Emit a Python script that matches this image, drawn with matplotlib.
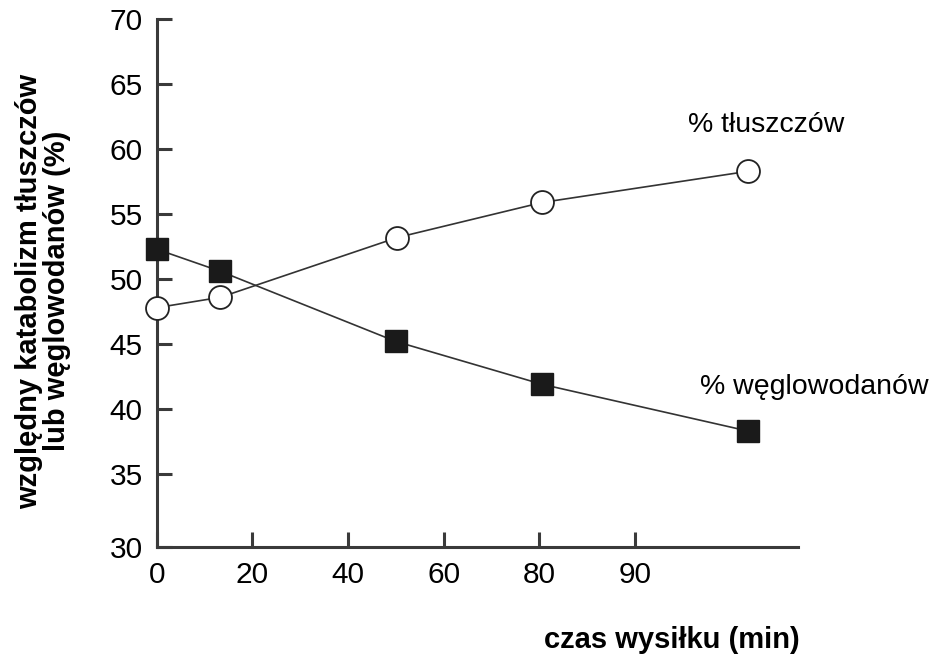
import matplotlib
matplotlib.use("Agg")
import matplotlib.pyplot as plt

# data (x in axis position units; tick labels as printed)
x_fat = [0, 13.3, 50.3, 80.6, 123.7]
fat = [47.8, 48.6, 53.2, 55.9, 58.3]
x_carb = [0, 13.3, 50.0, 80.6, 123.7]
carb = [52.3, 50.6, 45.2, 41.9, 38.3]
xtick_pos = [0, 20, 40, 60, 80, 100]
xtick_labels = ["0", "20", "40", "60", "80", "90"]
# the printed "30" sits on the x axis, a little below the even 5-unit spacing
ytick_pos = [29.4, 35, 40, 45, 50, 55, 60, 65, 70]
ytick_labels = ["30", "35", "40", "45", "50", "55", "60", "65", "70"]

plt.rcParams['font.family'] = ['Liberation Sans', 'DejaVu Sans']

fig = plt.figure(figsize=(9.33, 6.62), dpi=100)
ax = fig.add_axes([0.168, 0.174, 0.687, 0.797])

lc = '#333333'
ax.plot(x_fat, fat, '-', color=lc, lw=1.2, marker='o', ms=16.5,
        mfc='white', mec='#222222', mew=1.3, zorder=3, clip_on=False)
ax.plot(x_carb, carb, '-', color=lc, lw=1.2, marker='s', ms=16,
        mfc='#1a1a1a', mec='#1a1a1a', mew=1, zorder=3, clip_on=False)

ax.set_xlim(0, 134)
ax.set_ylim(ytick_pos[0], ytick_pos[-1])
ax.set_xticks(xtick_pos)
ax.set_xticklabels(xtick_labels)
ax.set_yticks(ytick_pos)
ax.set_yticklabels(ytick_labels)

for s in ['top', 'right']:
    ax.spines[s].set_visible(False)
for s in ['left', 'bottom']:
    ax.spines[s].set_linewidth(2.2)
    ax.spines[s].set_color('#3a3a3a')

ax.tick_params(axis='both', direction='in', length=11, width=2.2,
               color='#3a3a3a', labelsize=21.5)
ax.tick_params(axis='x', pad=10)
ax.tick_params(axis='y', pad=10)

ax.text(111, 61.85, '% tłuszczów', fontsize=20.5, ha='left', va='center')
ax.text(113.5, 41.7, '% węglowodanów', fontsize=20.5, ha='left', va='center',
        clip_on=False)

fig.text(0.046, 0.56, 'względny katabolizm tłuszczów\nlub węglowodanów (%)',
         rotation=90, ha='center', va='center', fontsize=21,
         fontweight='bold', linespacing=1.0)
fig.text(0.72, 0.033, 'czas wysiłku (min)', ha='center', va='center',
         fontsize=21, fontweight='bold')

fig.savefig('out.png', dpi=100)
